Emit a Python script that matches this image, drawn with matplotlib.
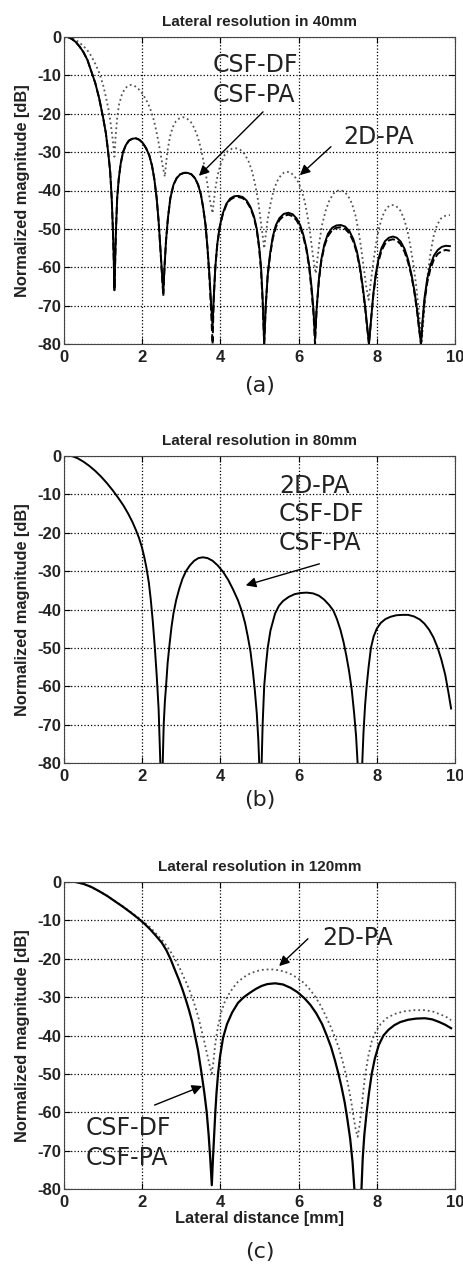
import matplotlib
matplotlib.use("Agg")
import matplotlib.pyplot as plt

# ---- data (x in mm, y in dB) ----
# panel (a): 40 mm, CSF-DF and CSF-PA share the x samples
a_csf_x = [0.1, 0.2, 0.3, 0.4, 0.5, 0.6, 0.7, 0.8, 0.9, 1.0, 1.07, 1.13, 1.18, 1.22, 1.25, 1.27, 1.29,
           1.31, 1.33, 1.36, 1.4, 1.45, 1.51, 1.58, 1.66, 1.75, 1.84, 1.93, 2.02, 2.1, 2.18, 2.25,
           2.31, 2.37, 2.42, 2.47, 2.51, 2.54,
           2.57, 2.61, 2.66, 2.72, 2.8, 2.88, 2.97, 3.07, 3.16, 3.26, 3.35, 3.43, 3.5, 3.56, 3.62,
           3.67, 3.72, 3.76, 3.80,
           3.83, 3.87, 3.92, 3.98, 4.06, 4.15, 4.25, 4.35, 4.46, 4.57, 4.67, 4.77, 4.86, 4.93, 4.99,
           5.04, 5.08, 5.12,
           5.16, 5.21, 5.27, 5.34, 5.42, 5.51, 5.62, 5.74, 5.85, 5.95, 6.04, 6.12, 6.2, 6.27, 6.33,
           6.38, 6.42,
           6.46, 6.52, 6.58, 6.66, 6.75, 6.86, 6.97, 7.08, 7.19, 7.3, 7.4, 7.49, 7.57, 7.64, 7.7,
           7.75, 7.8,
           7.85, 7.91, 7.97, 8.04, 8.12, 8.21, 8.31, 8.41, 8.51, 8.61, 8.71, 8.8, 8.88, 8.96, 9.03,
           9.08, 9.13,
           9.17, 9.22, 9.29, 9.37, 9.46, 9.56, 9.66, 9.76, 9.87]
a_csf_df = [0, -0.5, -1.3, -2.5, -4, -6, -9, -12, -16, -21, -25, -30, -35, -42, -50, -57, -65.5,
            -58, -50, -42, -37, -33, -30, -28.2, -27, -26.5, -26.4, -26.8, -27.7, -29, -30.8, -33.5,
            -37, -42, -48, -56, -62, -66.8,
            -60, -53, -47, -42, -38.5, -36.8, -35.8, -35.4, -35.4, -35.8, -36.8, -38.5, -41, -44.5, -49,
            -55, -62, -69, -75.5,
            -68, -60, -54, -49.5, -46, -43.5, -42.1, -41.5, -41.4, -41.7, -42.6, -44.3, -46.8, -50, -54.5,
            -60, -68, -80,
            -70, -62, -56.5, -52, -49, -47.2, -46.1, -45.8, -46.2, -47.3, -49, -51.5, -55, -59.5, -65,
            -71, -78.5,
            -71, -63, -58, -54, -51.3, -49.7, -49.1, -49, -49.4, -50.6, -52.7, -55.8, -60, -65, -70,
            -75, -80,
            -74, -67, -62, -58, -55, -53.2, -52.3, -52, -52.3, -53.3, -55.2, -58, -61.5, -66, -71,
            -75.5, -80,
            -74, -68, -63, -59.5, -57, -55.5, -54.7, -54.4, -54.5]
a_csf_pa = [0, -0.5, -1.3, -2.5, -4, -6, -9, -12, -16, -21, -25, -30, -35, -42, -50, -57, -66,
            -58, -50, -42, -37, -33, -30, -28.2, -27, -26.5, -26.4, -26.8, -27.7, -29, -30.8, -33.5,
            -37, -42, -48, -56, -63, -67.5,
            -60, -53, -47, -42, -38.5, -36.8, -35.8, -35.4, -35.4, -35.8, -36.8, -38.5, -41, -44.5, -49,
            -55, -63, -71, -80,
            -68, -60, -54, -49.8, -46.3, -43.8, -42.4, -41.8, -41.7, -42, -42.9, -44.6, -47.1, -50.3, -55,
            -61, -69, -80,
            -70, -62, -57, -52.5, -49.5, -47.7, -46.6, -46.3, -46.7, -47.8, -49.5, -52, -55.5, -60, -66,
            -72, -80,
            -71, -63.5, -58.5, -54.5, -51.9, -50.3, -49.7, -49.6, -50, -51.2, -53.3, -56.3, -60.5, -65.5, -70.5,
            -75.5, -80,
            -74, -67.5, -62.5, -58.6, -55.7, -53.9, -53, -52.7, -53, -54, -56, -58.7, -62, -66.5, -71.5,
            -76, -80,
            -74.5, -69, -64, -60.5, -58, -56.5, -55.8, -55.5, -55.7]

a_2dpa_x = [0.1, 0.2, 0.3, 0.4, 0.5, 0.6, 0.7, 0.8, 0.9, 1.0, 1.07, 1.14, 1.2, 1.25, 1.29,
            1.32, 1.36, 1.41, 1.48, 1.56, 1.64, 1.71, 1.8, 1.9, 2.0, 2.1, 2.19, 2.27, 2.34, 2.41,
            2.47, 2.53, 2.58,
            2.61, 2.65, 2.71, 2.78, 2.86, 2.95, 3.04, 3.14, 3.24, 3.33, 3.42, 3.5, 3.57, 3.64, 3.7,
            3.75, 3.80,
            3.83, 3.87, 3.93, 4.0, 4.09, 4.19, 4.3, 4.4, 4.51, 4.62, 4.72, 4.81, 4.89, 4.97, 5.04,
            5.09, 5.12,
            5.16, 5.21, 5.28, 5.36, 5.45, 5.55, 5.63, 5.7, 5.79, 5.89, 5.99, 6.08, 6.16, 6.23, 6.3,
            6.36, 6.41, 6.44,
            6.48, 6.53, 6.6, 6.69, 6.79, 6.9, 6.98, 7.06, 7.16, 7.26, 7.36, 7.45, 7.53, 7.6, 7.67,
            7.73, 7.79,
            7.84, 7.9, 7.97, 8.05, 8.14, 8.24, 8.33, 8.41, 8.5, 8.6, 8.69, 8.78, 8.86, 8.94, 9.01,
            9.07, 9.12, 9.15,
            9.19, 9.24, 9.3, 9.37, 9.45, 9.54, 9.64, 9.75, 9.87]
a_2dpa = [0, -0.3, -0.8, -1.5, -2.4, -3.5, -5, -7, -9.3, -12.5, -15.5, -19, -23, -27, -31.2,
          -26, -21, -17.5, -15, -13.4, -12.7, -12.5, -12.7, -13.5, -14.7, -16.3, -18.3, -20.6, -23.5, -27,
          -30.5, -34, -36.4,
          -33, -29.5, -26, -23.5, -22, -21.2, -20.9, -21.2, -22.1, -23.7, -26, -29, -32.5, -36.5, -40.5,
          -43.5, -45.9,
          -43, -39.5, -36, -33.3, -31, -29.7, -29.1, -29, -29.4, -30.5, -32.4, -35, -38.5, -43, -48.5,
          -52.5, -55.1,
          -51.5, -47.5, -43.5, -40, -37.6, -36, -35.3, -35.1, -35.3, -36.2, -37.8, -40, -43, -46.8, -51.5,
          -56.5, -60, -61.6,
          -58, -53.5, -49, -45.3, -42.5, -40.7, -40.1, -39.9, -40.2, -41.3, -43.3, -46.3, -50.3, -55, -60.5,
          -65, -68.5,
          -64.5, -59.5, -54.5, -50, -46.8, -44.7, -43.9, -43.8, -44.1, -45.2, -47.2, -50.3, -54.5, -59.5, -65,
          -71, -76, -79.3,
          -74, -68, -62, -56.5, -52, -49, -47.3, -46.6, -46.4]

# panel (b): 80 mm, the three beams coincide
b_x = [0.2, 0.35, 0.5, 0.65, 0.8, 0.95, 1.1, 1.25, 1.4, 1.52, 1.64, 1.75, 1.84, 1.92,
       1.99, 2.05, 2.11, 2.17, 2.22, 2.27, 2.32, 2.37, 2.42, 2.47,
       2.52, 2.55, 2.58, 2.61, 2.65, 2.7, 2.75, 2.8, 2.87, 2.95, 3.03, 3.12, 3.22, 3.33, 3.44, 3.55,
       3.67, 3.8, 3.93, 4.07, 4.2, 4.32, 4.45, 4.55, 4.63, 4.7, 4.77, 4.83, 4.88, 4.93, 4.97, 5.0,
       5.05, 5.08, 5.12, 5.17, 5.21, 5.28, 5.4, 5.5, 5.6, 5.75, 5.9, 6.05, 6.21, 6.37, 6.52, 6.65,
       6.78, 6.89, 6.98, 7.07, 7.15, 7.22, 7.29, 7.36, 7.42, 7.47, 7.52,
       7.62, 7.66, 7.7, 7.74, 7.79, 7.85, 7.92, 8.0, 8.1, 8.22, 8.35, 8.5, 8.65, 8.8, 8.95, 9.1,
       9.22, 9.34, 9.45, 9.55, 9.65, 9.75, 9.83, 9.9]
b_db = [0, -0.6, -1.5, -2.6, -3.9, -5.4, -7.1, -9, -11.1, -12.9, -15, -17.2, -19.3, -21.4,
        -23.7, -26.2, -29.2, -33, -37.5, -43, -49.5, -57, -66, -82,
        -82, -70, -64, -60, -54, -49, -44.5, -41, -37.5, -34.5, -32, -30, -28.5, -27.3, -26.6, -26.4,
        -26.6, -27.3, -28.5, -30.2, -32.3, -34.7, -37.6, -40.5, -43.5, -47, -51, -56, -61, -67, -74, -82,
        -82, -70, -60, -54, -50, -45.5, -41, -39, -37.8, -36.7, -36, -35.7, -35.6, -35.8, -36.4, -37.4,
        -38.8, -40.3, -42.5, -45.3, -48.5, -52, -56, -61, -67, -73, -82,
        -82, -72, -65, -60, -55, -50, -47, -45, -43.5, -42.5, -41.9, -41.5, -41.4, -41.4, -41.8, -42.6,
        -43.7, -45.3, -47.3, -49.8, -53, -57, -61.5, -65.8]

# panel (c): 120 mm
c_csf_x = [0.3, 0.5, 0.7, 0.9, 1.1, 1.3, 1.5, 1.7, 1.9, 2.05, 2.2, 2.35, 2.5, 2.62, 2.73, 2.84,
           2.94, 3.03, 3.12, 3.2, 3.28, 3.35, 3.43, 3.52, 3.59, 3.65, 3.7, 3.74, 3.78,
           3.81, 3.84, 3.87, 3.9, 3.94, 3.99, 4.07, 4.17, 4.3, 4.45, 4.6, 4.75, 4.9, 5.05, 5.2, 5.4,
           5.6, 5.8, 5.97, 6.15, 6.3, 6.45, 6.6, 6.72, 6.83, 6.93, 7.02, 7.1, 7.18, 7.25, 7.32, 7.38,
           7.44,
           7.6, 7.64, 7.68, 7.74, 7.8, 7.87, 7.95, 8.05, 8.17, 8.3, 8.45, 8.6, 8.8, 9.0, 9.23, 9.42,
           9.6, 9.75, 9.9]
c_csf_db = [0, -0.5, -1.3, -2.4, -3.6, -5.0, -6.4, -7.9, -9.5, -10.8, -12.3, -14, -15.8, -17.8, -20.2, -23,
            -25.5, -28, -30.8, -33.5, -36.5, -40, -44, -50, -55, -60, -66, -72, -79,
            -72, -66, -60, -55, -50, -45.5, -40.5, -37, -34, -31.5, -30, -28.9, -27.9, -27.1, -26.6, -26.4,
            -26.7, -27.6, -28.7, -30.3, -32, -34.2, -37, -40, -43, -46.5, -50, -53.5, -57.5, -62, -67, -73,
            -82,
            -82, -72, -66, -60, -55, -50, -46, -42.5, -40, -38.5, -37.3, -36.5, -35.9, -35.6, -35.5, -35.8,
            -36.5, -37.2, -38.1]
c_2dpa_x = [0.3, 0.5, 0.7, 0.9, 1.1, 1.3, 1.5, 1.7, 1.9, 2.05, 2.2, 2.35, 2.5, 2.62, 2.74, 2.84,
            2.95, 3.05, 3.15, 3.24, 3.31, 3.38, 3.45, 3.51, 3.57, 3.63, 3.69, 3.74, 3.78,
            3.82, 3.86, 3.9, 3.95, 4.02, 4.1, 4.2, 4.32, 4.45, 4.6, 4.75, 4.9, 5.05, 5.2, 5.35, 5.5,
            5.65, 5.8, 5.95, 6.1, 6.25, 6.42, 6.57, 6.7, 6.82, 6.93, 7.03, 7.12, 7.2, 7.28, 7.35, 7.41,
            7.46, 7.51,
            7.55, 7.6, 7.65, 7.7, 7.78, 7.87, 7.97, 8.1, 8.25, 8.45, 8.7, 8.95, 9.23, 9.45, 9.65, 9.8, 9.9]
c_2dpa_db = [0, -0.5, -1.3, -2.4, -3.6, -5.0, -6.3, -7.8, -9.3, -10.5, -11.8, -13.4, -15, -16.6, -18.4, -20.1,
             -22.2, -24.5, -26.7, -29, -31, -33.3, -35.8, -38.3, -40.8, -43.5, -46.2, -48.5, -49.9,
             -47, -43, -40, -37, -34, -31.5, -29.5, -27.6, -26, -24.8, -23.9, -23.3, -22.9, -22.8, -22.8, -23,
             -23.4, -24, -24.9, -26, -27.5, -29.8, -32.3, -35, -37.7, -40.4, -43.3, -46.5, -49.8, -53.5, -57.5, -61.5,
             -64.5, -66.4,
             -64, -60, -55, -50.5, -45.5, -41.5, -39, -37, -35.5, -34.4, -33.7, -33.4, -33.4, -33.8, -34.6, -35.3, -36]

titles = ["Lateral resolution in 40mm", "Lateral resolution in 80mm", "Lateral resolution in 120mm"]
tags = ["(a)", "(b)", "(c)"]
xticks = [0, 2, 4, 6, 8, 10]
yticks = [0, -10, -20, -30, -40, -50, -60, -70, -80]

plt.rcParams['font.family'] = ['Liberation Sans', 'DejaVu Sans']
plt.rcParams['axes.unicode_minus'] = False

fig = plt.figure(figsize=(4.64, 12.68), dpi=100)
bottoms = [1 - 344 / 1268, 1 - 763 / 1268, 1 - 1189 / 1268]
axs = [fig.add_axes([64 / 464, b, 391 / 464, 307 / 1268]) for b in bottoms]

ax = axs[0]
ax.plot(a_2dpa_x, a_2dpa, color='#555555', ls=':', lw=1.3)
ax.plot(a_csf_x, a_csf_pa, color='black', ls='--', lw=1.4)
ax.plot(a_csf_x, a_csf_df, color='black', ls='-', lw=1.4, solid_joinstyle='round')

ax = axs[1]
ax.plot(b_x, b_db, color='black', ls='-', lw=1.4, solid_joinstyle='round')

ax = axs[2]
ax.plot(c_2dpa_x, c_2dpa_db, color='#555555', ls=':', lw=1.3)
ax.plot(c_csf_x, c_csf_db, color='black', ls='-', lw=1.6, solid_joinstyle='round')

for i, ax in enumerate(axs):
    ax.set_xlim(0, 10)
    ax.set_ylim(-80, 0)
    ax.set_xticks(xticks)
    ax.set_yticks(yticks)
    ax.tick_params(direction='in', top=True, right=True, length=4, labelsize=12, pad=2)
    ax.tick_params(axis='x', pad=4)
    for lab in ax.get_xticklabels() + ax.get_yticklabels():
        lab.set_fontweight('bold')
        lab.set_color('#222222')
    ax.grid(True, color='black', ls=':', lw=0.9)
    for s in ax.spines.values():
        s.set_color('#444444')
        s.set_linewidth(0.8)
    ax.set_title(titles[i], fontsize=11, fontweight='bold', pad=8, color='#222222')
    ax.set_ylabel('Normalized magnitude [dB]', fontsize=11.8, fontweight='bold',
                  labelpad=5, color='#222222')

axs[2].set_xlabel('Lateral distance [mm]', fontsize=11.8, fontweight='bold', labelpad=1,
                  color='#222222')

ann = dict(fontsize=17, family='DejaVu Sans', color='#222222')
arrow = dict(arrowstyle='-|>', color='black', lw=1.0, mutation_scale=15)

# (a)
axs[0].text(3.81, -7.3, 'CSF-DF', va='center', **ann)
axs[0].text(3.81, -15.1, 'CSF-PA', va='center', **ann)
axs[0].annotate('', xy=(3.40, -36.7), xytext=(5.14, -19.0), arrowprops=arrow)
axs[0].text(7.14, -26.1, '2D-PA', va='center', **ann)
axs[0].annotate('', xy=(5.98, -36.5), xytext=(6.88, -28.1), arrowprops=arrow)

# (b)
axs[1].text(5.5, -7.8, '2D-PA', va='center', **ann)
axs[1].text(5.5, -15.1, 'CSF-DF', va='center', **ann)
axs[1].text(5.5, -22.7, 'CSF-PA', va='center', **ann)
axs[1].annotate('', xy=(4.58, -33.9), xytext=(6.6, -27.9), arrowprops=arrow)

# (c)
axs[2].text(6.6, -14.6, '2D-PA', va='center', **ann)
axs[2].annotate('', xy=(5.45, -22.4), xytext=(6.29, -14.3), arrowprops=arrow)
axs[2].text(0.56, -64.1, 'CSF-DF', va='center', **ann)
axs[2].text(0.56, -71.9, 'CSF-PA', va='center', **ann)
axs[2].annotate('', xy=(3.6, -52.9), xytext=(2.25, -58.4), arrowprops=arrow)

for y, t in zip([386, 800, 1252], tags):
    fig.text(260 / 464, 1 - y / 1268, t, ha='center', va='center', fontsize=16,
             family='DejaVu Sans', color='#222222')

plt.savefig('out.png', dpi=100)
